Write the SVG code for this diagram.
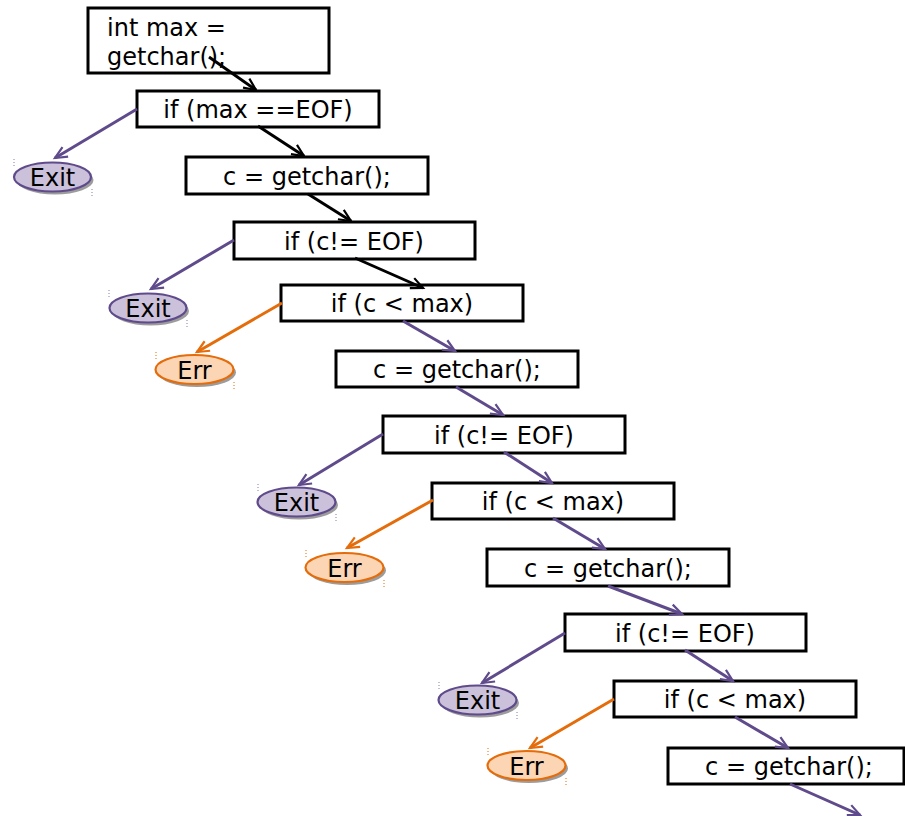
<svg xmlns="http://www.w3.org/2000/svg" width="905" height="816" viewBox="0 0 905 816">
  <style>
    .box { fill: #ffffff; stroke: #000000; stroke-width: 3; }
    .lbl { font-family: "DejaVu Sans", "Liberation Sans", sans-serif; font-size: 24px; fill: #000000; }
    .mid { text-anchor: middle; }
    .shadow { fill: #9c9c9c; }
    .exit { fill: #ccc1da; stroke: #5f4b8b; stroke-width: 2.2; }
    .err { fill: #fcd5b5; stroke: #e46c0a; stroke-width: 2.2; }
    .tick-exit { stroke: #8a7aa8; stroke-width: 1; stroke-dasharray: 1 2; }
    .tick-err { stroke: #e46c0a; stroke-width: 1; stroke-dasharray: 1 2; }
    .edge { fill: none; stroke-width: 3; }
    .blk { stroke: #000000; marker-end: url(#head-black); }
    .pur { stroke: #5f4b8b; marker-end: url(#head-purple); }
    .org { stroke: #e46c0a; marker-end: url(#head-orange); }
  </style>
  <defs>
    <marker id="head-black" markerUnits="userSpaceOnUse" markerWidth="16" markerHeight="14" refX="13" refY="6" orient="auto" overflow="visible">
      <path d="M1,0.5 L13,6 L1,11.5" fill="none" stroke="#000000" stroke-width="2.2"/>
    </marker>
    <marker id="head-purple" markerUnits="userSpaceOnUse" markerWidth="16" markerHeight="14" refX="13" refY="6" orient="auto" overflow="visible">
      <path d="M1,0.5 L13,6 L1,11.5" fill="none" stroke="#5f4b8b" stroke-width="2.2"/>
    </marker>
    <marker id="head-orange" markerUnits="userSpaceOnUse" markerWidth="16" markerHeight="14" refX="13" refY="6" orient="auto" overflow="visible">
      <path d="M1,0.5 L13,6 L1,11.5" fill="none" stroke="#e46c0a" stroke-width="2.2"/>
    </marker>
  </defs>

  <!-- statement / condition boxes -->
  <g id="n1">
    <rect class="box" x="88" y="8" width="241" height="65"/>
    <text class="lbl" x="107" y="36">int max =</text>
    <text class="lbl" x="107" y="65">getchar();</text>
  </g>
  <g id="n2">
    <rect class="box" x="137" y="91" width="242" height="36"/>
    <text class="lbl mid" x="258" y="118">if (max ==EOF)</text>
  </g>
  <g id="n3">
    <rect class="box" x="186" y="157" width="242" height="37"/>
    <text class="lbl mid" x="307" y="185">c = getchar();</text>
  </g>
  <g id="n4">
    <rect class="box" x="234" y="222" width="241" height="37"/>
    <text class="lbl mid" x="354" y="250">if (c!= EOF)</text>
  </g>
  <g id="n5">
    <rect class="box" x="281" y="285" width="242" height="36"/>
    <text class="lbl mid" x="402" y="312">if (c &lt; max)</text>
  </g>
  <g id="n6">
    <rect class="box" x="336" y="351" width="242" height="36"/>
    <text class="lbl mid" x="457" y="378">c = getchar();</text>
  </g>
  <g id="n7">
    <rect class="box" x="383" y="416" width="242" height="37"/>
    <text class="lbl mid" x="504" y="444">if (c!= EOF)</text>
  </g>
  <g id="n8">
    <rect class="box" x="432" y="483" width="242" height="36"/>
    <text class="lbl mid" x="553" y="510">if (c &lt; max)</text>
  </g>
  <g id="n9">
    <rect class="box" x="487" y="549" width="242" height="37"/>
    <text class="lbl mid" x="608" y="577">c = getchar();</text>
  </g>
  <g id="n10">
    <rect class="box" x="565" y="614" width="241" height="37"/>
    <text class="lbl mid" x="685" y="642">if (c!= EOF)</text>
  </g>
  <g id="n11">
    <rect class="box" x="614" y="681" width="242" height="36"/>
    <text class="lbl mid" x="735" y="708">if (c &lt; max)</text>
  </g>
  <g id="n12">
    <rect class="box" x="668" y="748" width="236" height="36"/>
    <text class="lbl mid" x="789" y="775">c = getchar();</text>
  </g>

  <!-- terminal ellipses -->
  <g id="exit1">
    <ellipse class="shadow" cx="55" cy="180" rx="38.5" ry="14.5"/>
    <ellipse class="exit" cx="52.5" cy="177" rx="38.5" ry="14.5"/>
    <line class="tick-exit" x1="14" y1="159" x2="14" y2="166"/>
    <line class="tick-exit" x1="92" y1="189" x2="92" y2="197"/>
    <text class="lbl mid" x="52.5" y="186">Exit</text>
  </g>
  <g id="exit2">
    <ellipse class="shadow" cx="150.5" cy="311" rx="38.5" ry="14.5"/>
    <ellipse class="exit" cx="148" cy="308" rx="38.5" ry="14.5"/>
    <line class="tick-exit" x1="109" y1="290" x2="109" y2="297"/>
    <line class="tick-exit" x1="187" y1="320" x2="187" y2="328"/>
    <text class="lbl mid" x="148" y="317">Exit</text>
  </g>
  <g id="err1">
    <ellipse class="shadow" cx="197" cy="372.5" rx="39" ry="14.5"/>
    <ellipse class="err" cx="194.5" cy="369.5" rx="39" ry="14.5"/>
    <line class="tick-err" x1="156" y1="352" x2="156" y2="359"/>
    <line class="tick-err" x1="234" y1="382" x2="234" y2="390"/>
    <text class="lbl mid" x="194.5" y="379">Err</text>
  </g>
  <g id="exit3">
    <ellipse class="shadow" cx="299" cy="505" rx="39" ry="14.5"/>
    <ellipse class="exit" cx="296.5" cy="502" rx="39" ry="14.5"/>
    <line class="tick-exit" x1="258" y1="484" x2="258" y2="491"/>
    <line class="tick-exit" x1="336" y1="514" x2="336" y2="522"/>
    <text class="lbl mid" x="296.5" y="511">Exit</text>
  </g>
  <g id="err2">
    <ellipse class="shadow" cx="347" cy="570.5" rx="39" ry="14.5"/>
    <ellipse class="err" cx="344.5" cy="567.5" rx="39" ry="14.5"/>
    <line class="tick-err" x1="306" y1="550" x2="306" y2="557"/>
    <line class="tick-err" x1="384" y1="580" x2="384" y2="588"/>
    <text class="lbl mid" x="344.5" y="577">Err</text>
  </g>
  <g id="exit4">
    <ellipse class="shadow" cx="480" cy="703" rx="39" ry="14.5"/>
    <ellipse class="exit" cx="477.5" cy="700" rx="39" ry="14.5"/>
    <line class="tick-exit" x1="439" y1="682" x2="439" y2="689"/>
    <line class="tick-exit" x1="517" y1="712" x2="517" y2="720"/>
    <text class="lbl mid" x="477.5" y="709">Exit</text>
  </g>
  <g id="err3">
    <ellipse class="shadow" cx="529" cy="768.5" rx="39" ry="14.5"/>
    <ellipse class="err" cx="526.5" cy="765.5" rx="39" ry="14.5"/>
    <line class="tick-err" x1="488" y1="748" x2="488" y2="755"/>
    <line class="tick-err" x1="566" y1="778" x2="566" y2="786"/>
    <text class="lbl mid" x="526.5" y="775">Err</text>
  </g>

  <!-- connectors -->
  <g id="edges">
    <line class="edge blk" x1="209" y1="57" x2="256" y2="90"/>
    <line class="edge blk" x1="258" y1="126" x2="304" y2="156"/>
    <line class="edge blk" x1="308" y1="194" x2="351" y2="221"/>
    <line class="edge blk" x1="355" y1="258" x2="423" y2="288"/>
    <line class="edge pur" x1="137" y1="109" x2="55" y2="158"/>
    <line class="edge pur" x1="234" y1="240" x2="151" y2="289"/>
    <line class="edge org" x1="282" y1="303" x2="197" y2="352"/>
    <line class="edge pur" x1="403" y1="321" x2="455" y2="351"/>
    <line class="edge pur" x1="456" y1="387" x2="503" y2="415"/>
    <line class="edge pur" x1="383" y1="434" x2="299" y2="485"/>
    <line class="edge pur" x1="504" y1="452" x2="552" y2="483"/>
    <line class="edge org" x1="433" y1="500" x2="347" y2="548"/>
    <line class="edge pur" x1="553" y1="518" x2="605" y2="549"/>
    <line class="edge pur" x1="608" y1="586" x2="682" y2="614"/>
    <line class="edge pur" x1="565" y1="633" x2="482" y2="683"/>
    <line class="edge pur" x1="685" y1="650" x2="733" y2="681"/>
    <line class="edge org" x1="614" y1="699" x2="530" y2="748"/>
    <line class="edge pur" x1="735" y1="717" x2="788" y2="748"/>
    <line class="edge pur" x1="790" y1="784" x2="860" y2="815"/>
  </g>
</svg>
